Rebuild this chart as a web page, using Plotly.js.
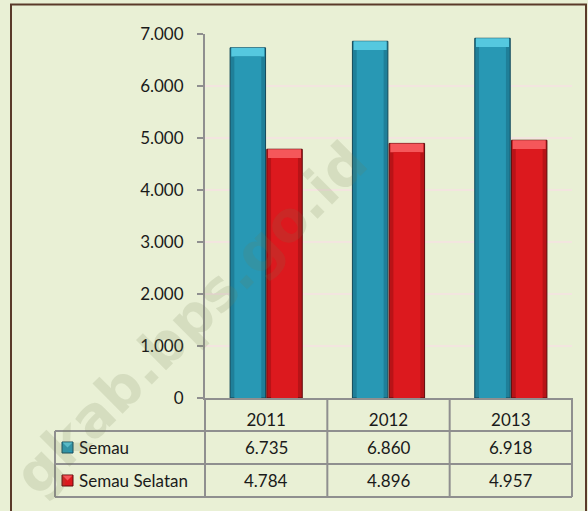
<!DOCTYPE html>
<html>
<head>
<meta charset="utf-8">
<script src="https://cdn.plot.ly/plotly-3.0.1.min.js"></script>
<style>html,body{margin:0;padding:0;background:#e9f0d5;}#chart{width:588px;height:511px;}</style>
</head>
<body>
<div id="chart"></div>
<script>
// ---- data ----
const years = ['2011', '2012', '2013'];
const semau = [6735, 6860, 6918];
const semauSelatan = [4784, 4896, 4957];
const seriesNames = ['Semau', 'Semau Selatan'];
const yTicks = [0, 1000, 2000, 3000, 4000, 5000, 6000, 7000];
const watermark = 'gkab.bps.go.id';

// ---- layout helpers (pixel -> paper) ----
const FW = 588, FH = 511;
const L = 205, R = 572, T = 34, B = 398;
const W = R - L, H = B - T;
const px = p => (p - L) / W;
const py = p => (B - p) / H;
const fmt = v => {
  const s = String(Math.round(v));
  return s.replace(/\B(?=(\d{3})+(?!\d))/g, '.');
};

const FONT = 'Lato, "Open Sans", sans-serif';
const TEXT = '#1a1a1a';
const BG = '#e9f0d5';
const GRID_LINE = '#8f8f8f';
const capH = 170;

const series = [
  {name: seriesNames[0], vals: semau, color: '#1f7f99', inner: '#2898b4', line: '#12485a', cap: '#55c8df', offset: -0.295},
  {name: seriesNames[1], vals: semauSelatan, color: '#b81317', inner: '#dc191e', line: '#5e0a0c', cap: '#f5575a', offset: 0.005}
];
const bw = 0.29;

const traces = [];
series.forEach(s => {
  traces.push({
    type: 'bar', x: years, y: s.vals, name: s.name,
    width: years.map(() => bw), offset: years.map(() => s.offset),
    marker: {color: s.color, line: {color: s.line, width: 1}},
    showlegend: false, hoverinfo: 'x+y+name'
  });
  traces.push({
    type: 'bar', x: years, y: s.vals.map(() => capH), base: s.vals.map(v => v - capH),
    width: years.map(() => bw - 0.02), offset: years.map(() => s.offset + 0.01),
    marker: {color: s.cap, line: {width: 0}},
    showlegend: false, hoverinfo: 'skip'
  });
  traces.push({
    type: 'bar', x: years, y: s.vals.map(v => v - capH),
    width: years.map(() => bw - 0.07), offset: years.map(() => s.offset + 0.035),
    marker: {color: s.inner, line: {width: 0}},
    showlegend: false, hoverinfo: 'skip'
  });
});

// ---- table (shapes + annotations) ----
const rowLines = [431, 464, 497];
const colLines = [L + W / 3, L + 2 * W / 3, R];
const shapes = [];
const lineStyle = {color: GRID_LINE, width: 2};
shapes.push({type: 'line', xref: 'paper', yref: 'paper', x0: 0, x1: 0, y0: py(B), y1: py(rowLines[2]), line: lineStyle});
colLines.forEach(c => shapes.push({type: 'line', xref: 'paper', yref: 'paper', x0: px(c), x1: px(c), y0: py(B), y1: py(rowLines[2]), line: lineStyle}));
shapes.push({type: 'line', xref: 'paper', yref: 'paper', x0: px(55), x1: px(55), y0: py(rowLines[0]), y1: py(rowLines[2]), line: lineStyle});
rowLines.forEach(r => shapes.push({type: 'line', xref: 'paper', yref: 'paper', x0: px(55), x1: px(R), y0: py(r), y1: py(r), line: lineStyle}));

const annotations = [];
const rowCenters = [(rowLines[0] + rowLines[1]) / 2, (rowLines[1] + rowLines[2]) / 2];
series.forEach((s, j) => {
  const c = rowCenters[j];
  shapes.push({type: 'rect', xref: 'paper', yref: 'paper', x0: px(62), x1: px(73), y0: py(c + 5.5), y1: py(c - 5.5),
    fillcolor: s.inner, line: {color: s.line, width: 1}});
  shapes.push({type: 'path', xref: 'paper', yref: 'paper',
    path: 'M ' + px(62.5) + ' ' + py(c - 5) + ' L ' + px(72.5) + ' ' + py(c - 5) + ' L ' + px(67.5) + ' ' + py(c) + ' Z',
    fillcolor: s.cap, line: {width: 0}});
  annotations.push({xref: 'paper', yref: 'paper', x: px(77), y: py(c), xanchor: 'left', yanchor: 'middle',
    text: s.name, showarrow: false, font: {family: FONT, size: 17, color: TEXT}});
  years.forEach((yr, i) => {
    // category axis: position annotations by category index
    annotations.push({xref: 'x', yref: 'paper', x: i, y: py(c), xanchor: 'center', yanchor: 'middle',
      text: fmt(s.vals[i]), showarrow: false, font: {family: FONT, size: 17, color: TEXT}});
  });
});

// outer border
shapes.push({type: 'rect', xref: 'paper', yref: 'paper', x0: px(11), x1: px(586), y0: py(4.5), y1: py(530),
  line: {color: '#5a3a2a', width: 2}, fillcolor: 'rgba(0,0,0,0)'});

// watermark
annotations.push({xref: 'paper', yref: 'paper', x: px(190), y: py(318), xanchor: 'center', yanchor: 'middle',
  text: '<b>' + watermark + '</b>', textangle: -45, showarrow: false,
  font: {family: '"DejaVu Sans", sans-serif', size: 56, color: 'rgba(110,125,80,0.16)'}});

const layout = {
  width: FW, height: FH,
  margin: {l: L, r: FW - R, t: T, b: FH - B, pad: 0},
  paper_bgcolor: BG, plot_bgcolor: BG,
  separators: ',.',
  barmode: 'overlay',
  font: {family: FONT, size: 17, color: TEXT},
  xaxis: {
    type: 'category', categoryorder: 'array', categoryarray: years,
    range: [-0.5, years.length - 0.5],
    showline: true, linecolor: GRID_LINE, linewidth: 2,
    ticks: '', showgrid: false, zeroline: false,
    tickfont: {family: FONT, size: 17, color: TEXT}, ticklabelstandoff: 6
  },
  yaxis: {
    range: [0, 7000], tickvals: yTicks, tickformat: ',d',
    showline: true, linecolor: GRID_LINE, linewidth: 2,
    ticks: 'outside', ticklen: 6, tickwidth: 2, tickcolor: GRID_LINE,
    showgrid: true, gridcolor: '#f3e5df', gridwidth: 2, zeroline: false,
    tickfont: {family: FONT, size: 17, color: TEXT}, ticklabelstandoff: 10
  },
  shapes: shapes,
  annotations: annotations
};

Plotly.newPlot('chart', traces, layout, {displayModeBar: false, staticPlot: true});
</script>
</body>
</html>
